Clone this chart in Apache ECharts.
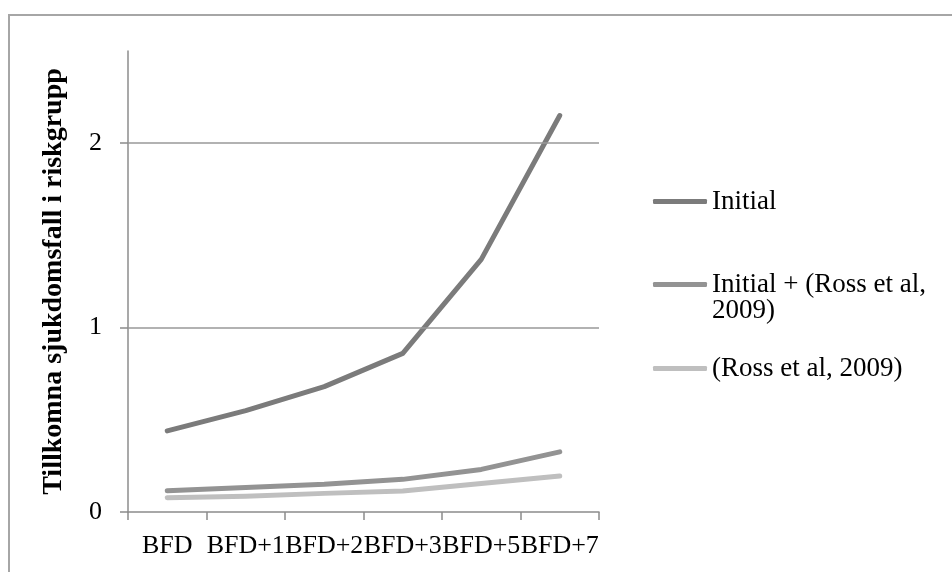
<!DOCTYPE html>
<html>
<head>
<meta charset="utf-8">
<script src="https://cdn.jsdelivr.net/npm/echarts@6/dist/echarts.min.js"></script>
<style>html,body{margin:0;padding:0;background:#fff}#c{width:952px;height:572px}</style>
</head>
<body>
<div id="c"></div>
<script>
const categories = ['BFD', 'BFD+1', 'BFD+2', 'BFD+3', 'BFD+5', 'BFD+7'];
const initialValues = [0.44, 0.55, 0.68, 0.86, 1.37, 2.15];
const initialRossValues = [0.115, 0.133, 0.15, 0.177, 0.231, 0.326];
const rossValues = [0.077, 0.086, 0.101, 0.114, 0.155, 0.195];
const seriesNames = ['Initial', 'Initial + (Ross et al, 2009)', '(Ross et al, 2009)'];
const yTickValues = [0, 1, 2];
const gridValues = [1, 2];
const yTitle = 'Tillkomna sjukdomsfall i riskgrupp';

const colors = ['#7b7b7b', '#939393', '#bfbfbf'];
const serif = '"Liberation Serif", "Times New Roman", serif';
const chart = echarts.init(document.getElementById('c'), null, {renderer: 'canvas'});

function legendCfg(i, name, top, fmt) {
  return {
    data: [name], left: 653, top: top, orient: 'vertical',
    icon: 'roundRect', itemWidth: 54, itemHeight: 5, itemGap: 0, padding: 0,
    selectedMode: false,
    formatter: fmt || undefined,
    textStyle: {fontFamily: serif, fontSize: 27, color: '#000', padding: [0,0,0,0]}
  };
}

chart.setOption({
  animation: false,
  backgroundColor: '#fff',
  grid: {left: 128, right: 353, top: 51, bottom: 60},
  legend: [
    legendCfg(0, seriesNames[0], 188),
    legendCfg(1, seriesNames[1], 271, function(){ return 'Initial + (Ross et al,'; }),
    legendCfg(2, seriesNames[2], 355)
  ],
  graphic: [
    {type: 'rect', shape: {x: 9, y: 15, width: 960, height: 600}, style: {fill: 'none', stroke: '#a6a6a6', lineWidth: 2}, silent: true},
    {type: 'text', left: 712, top: 297, style: {text: '2009)', font: '27px ' + serif, fill: '#000'}, silent: true}
  ],
  xAxis: {
    type: 'category', data: categories,
    axisLine: {lineStyle: {color: '#8c8c8c', width: 1.5}},
    axisTick: {show: true, length: 8, lineStyle: {color: '#8c8c8c', width: 1.5}},
    axisLabel: {interval: 0, margin: 21, fontFamily: serif, fontSize: 26, color: '#000'},
    splitLine: {show: false}
  },
  yAxis: {
    type: 'value', min: 0, max: 2.5, interval: 1,
    name: yTitle, nameLocation: 'middle', nameRotate: 90, nameGap: 60,
    nameTextStyle: {fontFamily: serif, fontSize: 28, fontWeight: 'bold', color: '#000'},
    axisLine: {show: true, lineStyle: {color: '#8c8c8c', width: 1.5}},
    axisTick: {show: true, length: 8, customValues: yTickValues, lineStyle: {color: '#8c8c8c', width: 1.5}},
    axisLabel: {margin: 26, customValues: yTickValues, fontFamily: serif, fontSize: 26, color: '#000'},
    splitLine: {show: false}
  },
  series: [
    {name: seriesNames[0], type: 'line', data: initialValues, showSymbol: false, symbol: 'none',
     lineStyle: {color: colors[0], width: 5, cap: 'round', join: 'round'}, itemStyle: {color: colors[0]},
     markLine: {silent: true, symbol: 'none', label: {show: false},
       lineStyle: {color: '#999', width: 1.5, type: 'solid'},
       data: gridValues.map(v => ({yAxis: v}))}, z: 3},
    {name: seriesNames[1], type: 'line', data: initialRossValues, showSymbol: false, symbol: 'none',
     lineStyle: {color: colors[1], width: 5, cap: 'round', join: 'round'}, itemStyle: {color: colors[1]}, z: 2},
    {name: seriesNames[2], type: 'line', data: rossValues, showSymbol: false, symbol: 'none',
     lineStyle: {color: colors[2], width: 5, cap: 'round', join: 'round'}, itemStyle: {color: colors[2]}, z: 1}
  ]
});
</script>
</body>
</html>
